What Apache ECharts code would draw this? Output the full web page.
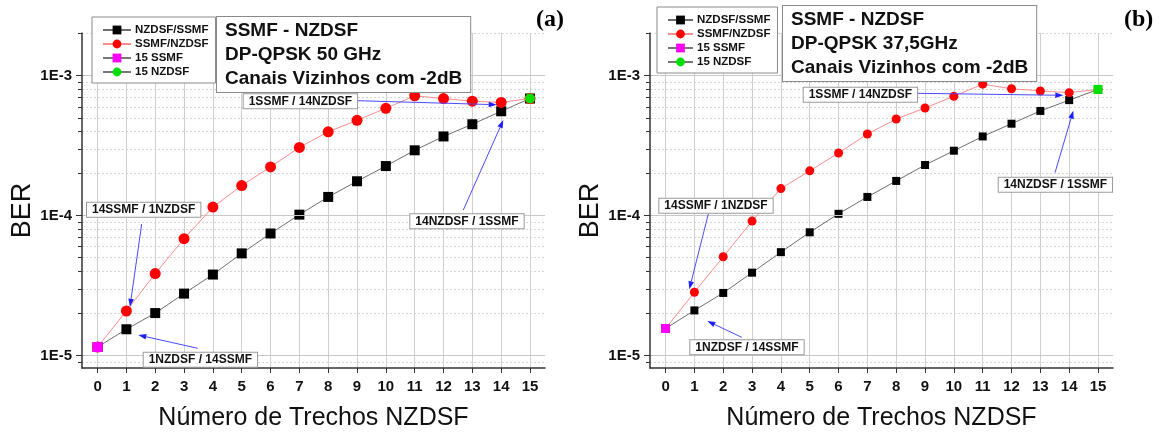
<!DOCTYPE html>
<html><head><meta charset="utf-8">
<script src="https://cdn.jsdelivr.net/npm/echarts@6/dist/echarts.min.js"></script>
<style>html,body{margin:0;padding:0;background:#fff}#c{width:1165px;height:436px}</style>
</head><body><div id="c"></div>
<script>
// ---------- data ----------
const xTrechos = [0,1,2,3,4,5,6,7,8,9,10,11,12,13,14,15];
const seriesNames = ['NZDSF/SSMF','SSMF/NZDSF','15 SSMF','15 NZDSF'];
// (a) 50 GHz
const berNzdsfSsmfA = [1.15e-5,1.54e-5,2.01e-5,2.77e-5,3.79e-5,5.37e-5,7.45e-5,1.016e-4,1.36e-4,1.76e-4,2.26e-4,2.93e-4,3.68e-4,4.50e-4,5.57e-4,6.87e-4];
const berSsmfNzdsfA = [1.15e-5,2.08e-5,3.85e-5,6.84e-5,1.15e-4,1.64e-4,2.23e-4,3.07e-4,3.97e-4,4.80e-4,5.85e-4,7.18e-4,6.87e-4,6.58e-4,6.44e-4,6.87e-4];
const x15Ssmf = [0];
const ber15SsmfA = [1.15e-5];
const x15Nzdsf = [15];
const ber15NzdsfA = [6.87e-4];
// (b) 37,5 GHz
const berNzdsfSsmfB = [1.56e-5,2.10e-5,2.80e-5,3.91e-5,5.48e-5,7.60e-5,1.03e-4,1.36e-4,1.77e-4,2.30e-4,2.91e-4,3.68e-4,4.54e-4,5.60e-4,6.69e-4,7.98e-4];
const berSsmfNzdsfB = [1.56e-5,2.83e-5,5.08e-5,9.14e-5,1.56e-4,2.09e-4,2.80e-4,3.83e-4,4.90e-4,5.88e-4,7.13e-4,8.70e-4,8.07e-4,7.78e-4,7.57e-4,7.98e-4];
const ber15SsmfB = [1.56e-5];
const ber15NzdsfB = [7.98e-4];

// tick values
const xTickValues = [0,1,2,3,4,5,6,7,8,9,10,11,12,13,14,15];
const yMajorTicks = [1e-5, 1e-4, 1e-3];
const yMinorTicks = [9e-6, 2e-5,3e-5,4e-5,5e-5,6e-5,7e-5,8e-5,9e-5, 2e-4,3e-4,4e-4,5e-4,6e-4,7e-4,8e-4,9e-4, 2e-3];

const infoA = ['SSMF - NZDSF','DP-QPSK 50 GHz','Canais Vizinhos com -2dB'];
const infoB = ['SSMF - NZDSF','DP-QPSK 37,5GHz','Canais Vizinhos com -2dB'];
const annotTexts = ['1SSMF / 14NZDSF','14SSMF / 1NZDSF','1NZDSF / 14SSMF','14NZDSF / 1SSMF'];
const xTitle = 'Número de Trechos NZDSF';
const yTitle = 'BER';
const panelTags = ['(a)','(b)'];

// ---------- layout ----------
const FONT = 'Liberation Sans';
const grids = [
  {left: 82, top: 33, width: 463, height: 342},
  {left: 650, top: 33, width: 463, height: 343}
];
const annotPosA = [[242.7,93.3],[86,201.7],[142.7,351.7],[409.3,213.3]];
const annotPosB = [[802.7,86.7],[658.3,197.7],[689.3,339.3],[997.7,176.7]];
const arrowsA = [[357.7,100.7,496.7,104.7],[141.7,224,130,306.7],[197.7,348.3,138.3,335],[463.3,210,503.3,120]];
const arrowsB = [[916.7,93.3,1063.3,95.3],[708.3,214,689.3,289.3],[741.7,337.3,707.3,321],[1055,172.7,1073.3,110.7]];

function pairs(xs, ys){ return xs.map((x,i)=>[x, ys[i]]); }

function makeXAxis(gi){
  return {
    type:'value', gridIndex: gi, min: -0.54, max: 15.52,
    name: xTitle, nameLocation:'middle', nameGap: 38,
    nameTextStyle:{fontFamily: FONT, fontSize: 25, color:'#111'},
    axisLine:{show:true, onZero:false, lineStyle:{color:'#333', width:1.5}},
    axisTick:{show:true, inside:false, length:5, customValues: xTickValues, lineStyle:{color:'#333'}},
    axisLabel:{fontFamily: FONT, fontSize: 15, fontWeight:'bold', color:'#111', margin: 11, customValues: xTickValues},
    splitLine:{show:true, lineStyle:{color:'#cfcfcf', width:1}}
  };
}
function makeYAxis(gi, gap){
  return {
    type:'log', logBase:10, gridIndex: gi, min: 8.14e-6, max: 2.02e-3, position:'left',
    name: yTitle, nameLocation:'middle', nameGap: gap, nameRotate: 90,
    nameTextStyle:{fontFamily: FONT, fontSize: 27, color:'#111', padding:[0,20,0,0]},
    axisLine:{show:true, onZero:false, lineStyle:{color:'#333', width:1.5}},
    axisTick:{show:true, inside:false, length:6, customValues: yMajorTicks, lineStyle:{color:'#333'}},
    axisLabel:{fontFamily: FONT, fontSize: 15, fontWeight:'bold', color:'#111', margin: 10, customValues: yMajorTicks,
      formatter: v => '1E' + Math.round(Math.log10(v))},
    splitLine:{show:true, lineStyle:{color:'#c8c8c8', width:1}},
    z: 3
  };
}
function makeMinorYAxis(gi){
  return {
    type:'log', logBase:10, gridIndex: gi, min: 8.14e-6, max: 2.02e-3, position:'left',
    axisLine:{show:false, onZero:false},
    axisTick:{show:true, inside:false, length:4, customValues: yMinorTicks, lineStyle:{color:'#333'}},
    axisLabel:{show:false},
    splitLine:{show:true, lineStyle:{color:'#d6d6d6', width:1, type:[2,2]}},
    z: 2
  };
}
function makeSeries(gi, black, red, s15, n15, sz, greenSym){
  const common = {type:'line', xAxisIndex: gi, yAxisIndex: gi, showAllSymbol:true, animation:false, emphasis:{disabled:true}};
  return [
    Object.assign({}, common, {name: seriesNames[0], data: pairs(xTrechos, black), symbol:'rect', symbolSize: sz[0],
      itemStyle:{color:'#000'}, lineStyle:{color:'#6e6e6e', width:1}, z:2}),
    Object.assign({}, common, {name: seriesNames[1], data: pairs(xTrechos, red), symbol:'circle', symbolSize: sz[1],
      itemStyle:{color:'#ff0000'}, lineStyle:{color:'#ff8c8c', width:1}, z:3}),
    Object.assign({}, common, {name: seriesNames[2], data: pairs(x15Ssmf, s15), symbol:'rect', symbolSize: sz[2],
      itemStyle:{color:'#ff00ff'}, lineStyle:{color:'#777', width:1}, z:4}),
    Object.assign({}, common, {name: seriesNames[3], data: pairs(x15Nzdsf, n15), symbol: greenSym, symbolSize: sz[3],
      itemStyle:{color:'#00e000'}, lineStyle:{color:'#777', width:1}, z:5})
  ];
}
function makeLegend(left, top, itemWidth){
  return {
    show:true, orient:'vertical', left, top, data: seriesNames, selectedMode:false,
    itemWidth, itemHeight: 11, itemGap: 2, padding:[7,7,5,10],
    borderColor:'#8a8a8a', borderWidth:1, backgroundColor:'#fff', borderRadius:0,
    textStyle:{fontFamily: FONT, fontSize: 11.5, fontWeight:'bold', color:'#111', padding:[0,0,0,-1]}
  };
}
function infoBox(x, y, lines){
  return {type:'text', left: x, top: y, z: 50,
    style:{text: lines.join('\n'), font: 'bold 19px "Liberation Sans"', fill:'#111', lineHeight: 24,
      backgroundColor:'#fff', borderColor:'#8a8a8a', borderWidth:1, padding:[2,8,1,8]}};
}
function annotBoxes(pos){
  return pos.map((p,i)=>({type:'text', left: p[0], top: p[1], z: 50,
    style:{text: annotTexts[i], font:'bold 12px "Liberation Sans"', fill:'#111',
      backgroundColor:'#fff', borderColor:'#9a9a9a', borderWidth:1, padding:[1,5,1,5]}}));
}
function arrowEls(list){
  const els = [];
  list.forEach(a=>{
    const [x1,y1,x2,y2] = a;
    const ang = Math.atan2(y2-y1, x2-x1);
    const L = 8, W = 2.8;
    const bx = x2 - L*Math.cos(ang), by = y2 - L*Math.sin(ang);
    const px = -Math.sin(ang)*W, py = Math.cos(ang)*W;
    els.push({type:'line', z: 40, shape:{x1, y1, x2: bx, y2: by}, style:{stroke:'#4a4aff', lineWidth:1}});
    els.push({type:'polygon', z: 40, shape:{points:[[x2,y2],[bx+px,by+py],[bx-px,by-py]]}, style:{fill:'#1f1fff'}});
  });
  return els;
}

const chart = echarts.init(document.getElementById('c'), null, {renderer:'canvas'});
chart.setOption({
  backgroundColor:'#fff',
  animation:false,
  grid: grids,
  xAxis: [makeXAxis(0), makeXAxis(1)],
  yAxis: [makeYAxis(0, 42), makeYAxis(1, 44), makeMinorYAxis(0), makeMinorYAxis(1)],
  legend: [makeLegend(92, 17, 28), makeLegend(657, 7, 25)],
  series: makeSeries(0, berNzdsfSsmfA, berSsmfNzdsfA, ber15SsmfA, ber15NzdsfA, [10,11,10,10], 'circle')
    .concat(makeSeries(1, berNzdsfSsmfB, berSsmfNzdsfB, ber15SsmfB, ber15NzdsfB, [8,9,9,9], 'rect')),
  graphic: [
    infoBox(216, 16, infoA),
    infoBox(782, 5, infoB),
    {type:'text', left: 536, top: 8, z:50, style:{text: panelTags[0], font:'bold 24px "Liberation Serif"', fill:'#000'}},
    {type:'text', left: 1124, top: 8, z:50, style:{text: panelTags[1], font:'bold 24px "Liberation Serif"', fill:'#000'}}
  ].concat(arrowEls(arrowsA), arrowEls(arrowsB), annotBoxes(annotPosA), annotBoxes(annotPosB))
});
</script>
</body></html>
